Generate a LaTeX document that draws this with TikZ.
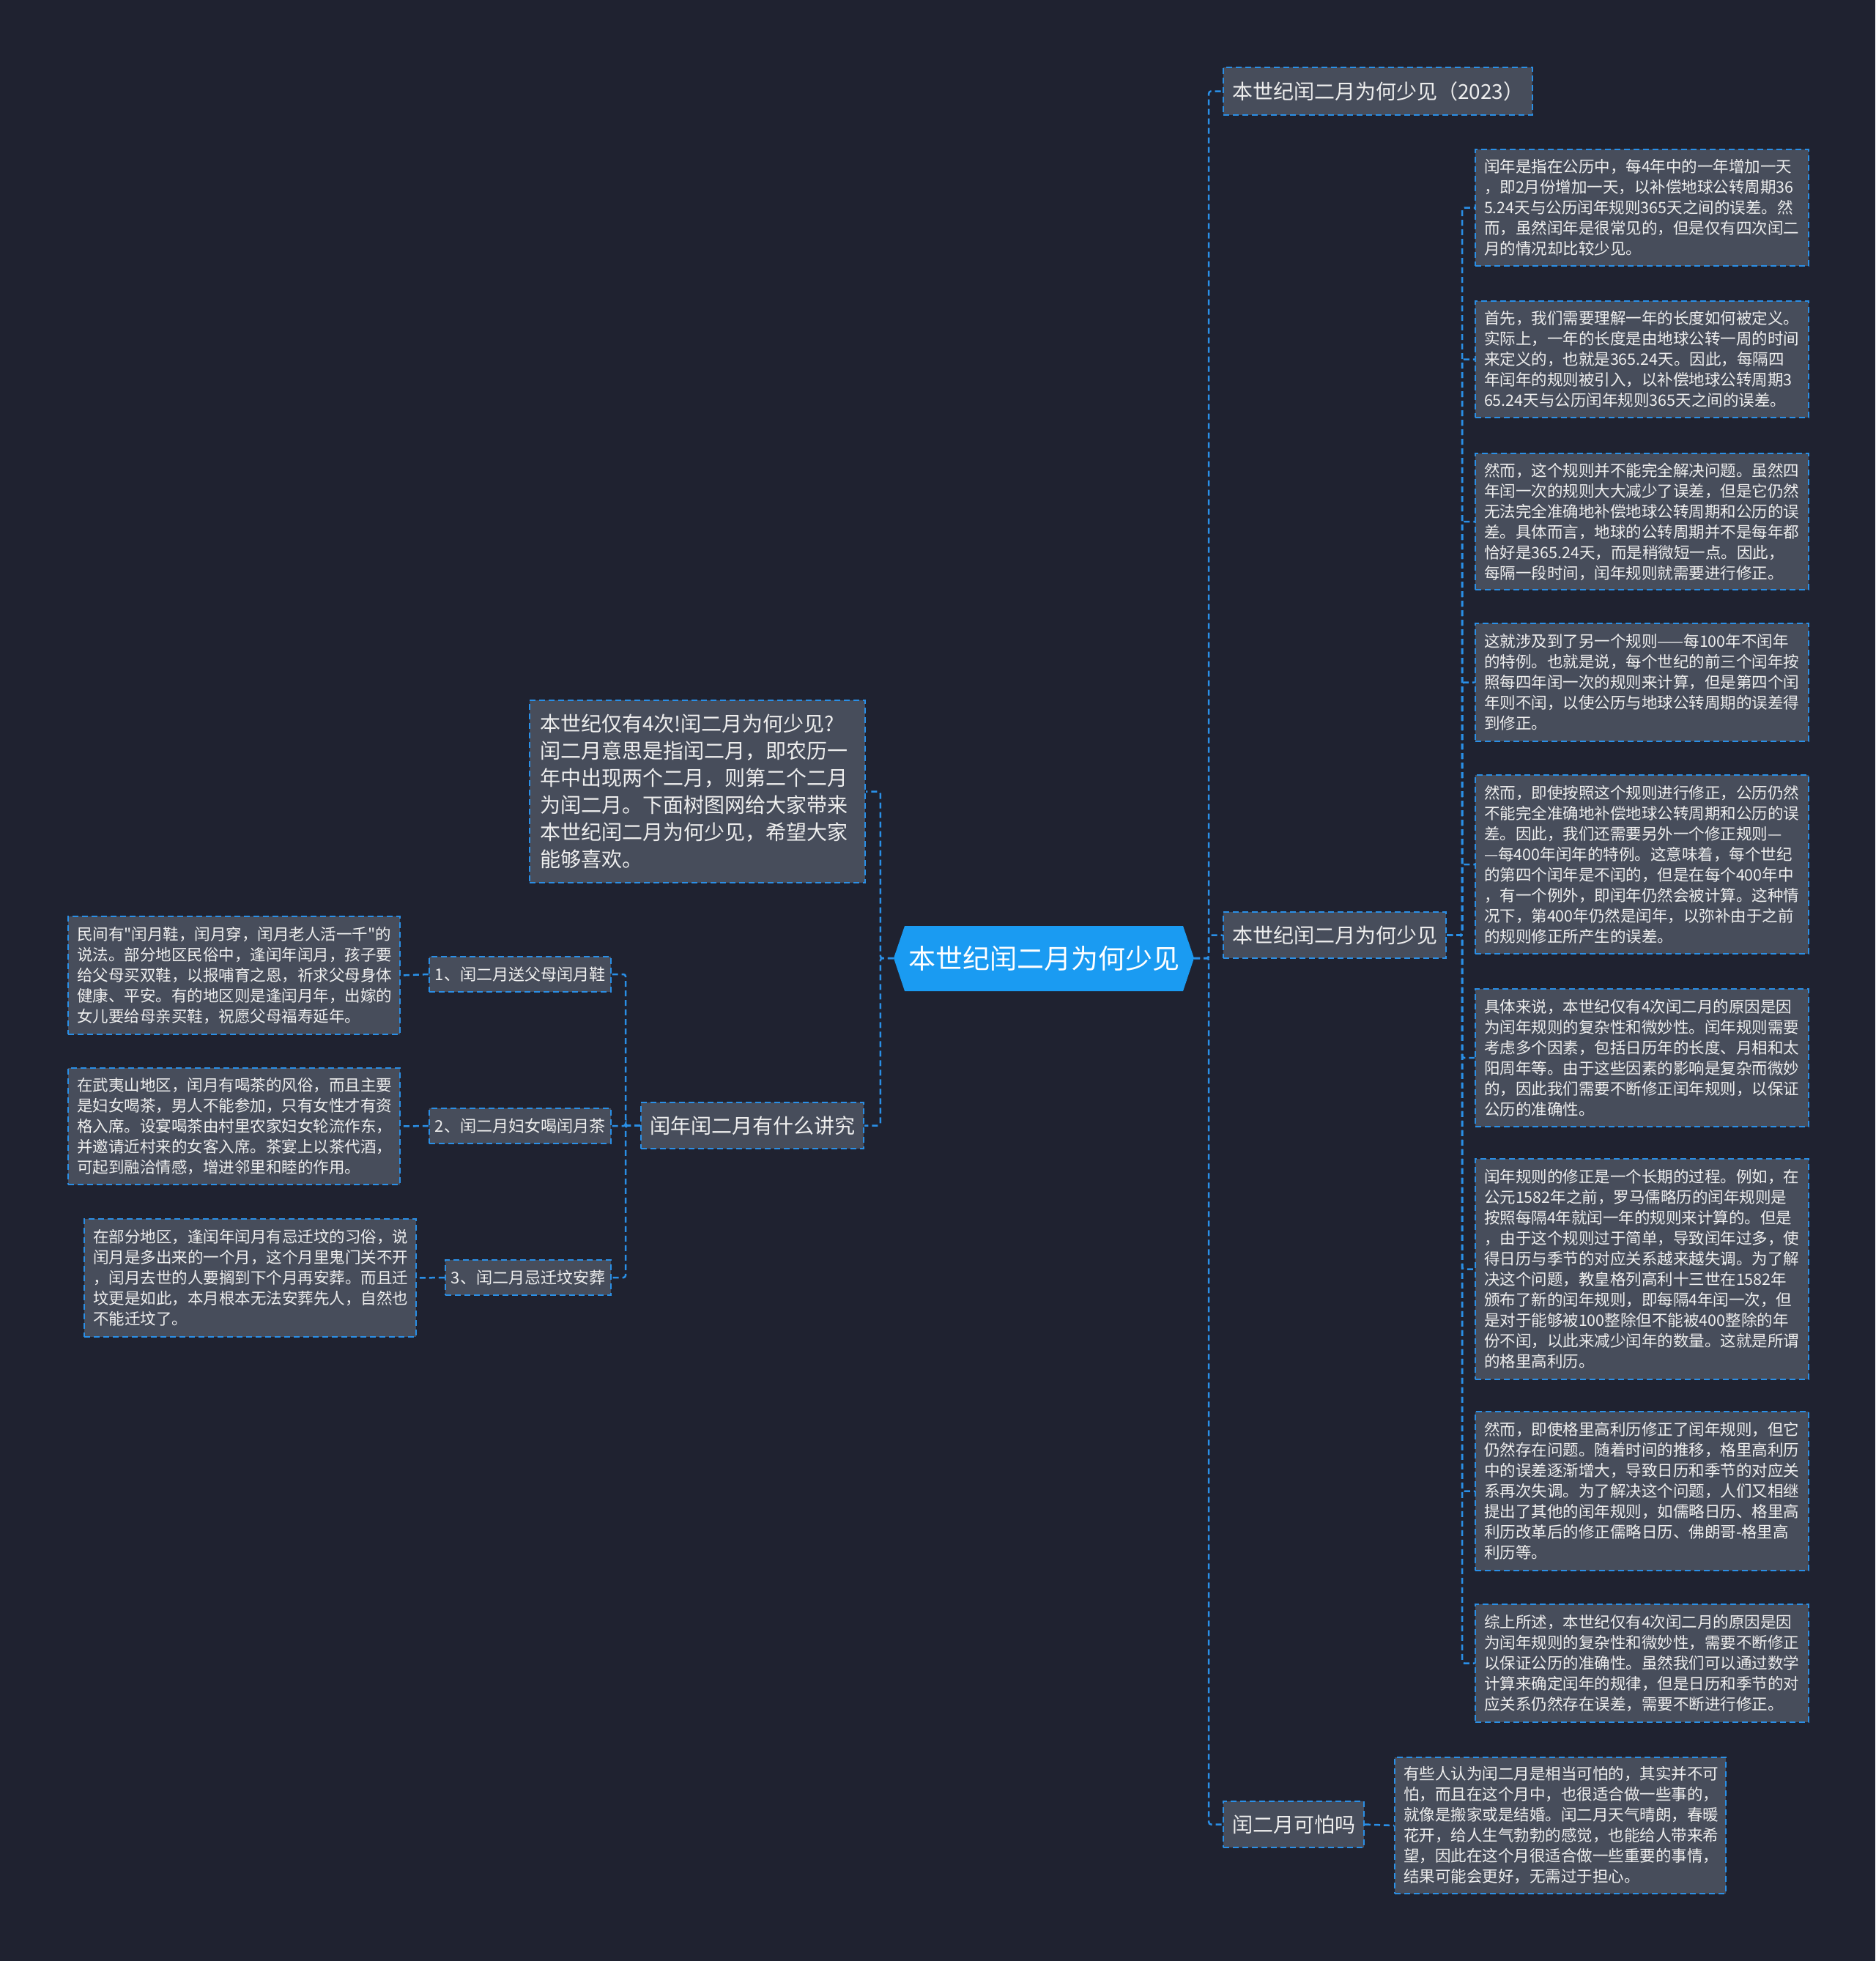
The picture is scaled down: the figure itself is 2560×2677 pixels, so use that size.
\documentclass[tikz,border=0pt]{standalone}
\usepackage{fontspec}
\newfontfamily\cjk{Noto Sans CJK SC}
\definecolor{bg}{HTML}{1F2230}
\definecolor{boxfill}{HTML}{474D5B}
\definecolor{linec}{HTML}{2A8FE6}
\definecolor{hub}{HTML}{1A9BF2}
\definecolor{txt}{HTML}{EEEEEE}
\begin{document}
\begin{tikzpicture}[x=1pt,y=-1pt,
  conn/.style={draw=linec, line width=2.5pt, dash pattern=on 8pt off 5pt, rounded corners=3pt},
  box/.style={draw=linec, line width=2pt, dash pattern=on 8pt off 5pt, fill=boxfill, text=txt, inner ysep=0pt},
  leafbox/.style={box, anchor=north west, inner xsep=12pt, align=left, font=\cjk\fontsize{21.5}{28}\selectfont},
  branch/.style={box, inner xsep=12pt, minimum height=63pt, font=\cjk\fontsize{28}{34}\selectfont},
  subbox/.style={box, anchor=east, inner xsep=8pt, minimum height=48pt, font=\cjk\fontsize{22}{26}\selectfont}
]
\useasboundingbox (0,0) rectangle (2560,2677);
\fill[bg] (0,0) rectangle (2560,2677);

% central node
\fill[hub] (1220,1308) -- (1235,1264) -- (1615,1264) -- (1630,1308) -- (1615,1353) -- (1235,1353) -- cycle;
\node[font=\cjk\fontsize{37}{44}\selectfont, text=white, minimum width=410pt, minimum height=89pt, inner sep=0pt] (c) at (1425,1308) {本世纪闰二月为何少见};

% right branches
\node[branch, anchor=west, minimum height=65pt] (r1) at (1669,124.5) {本世纪闰二月为何少见（2023）};
\node[branch, anchor=west] (r2) at (1669,1276.5) {本世纪闰二月为何少见};
\node[branch, anchor=west] (r3) at (1669,2490.5) {闰二月可怕吗};

% right leaves
\node[leafbox, text width=431pt, minimum height=159pt] (a1) at (2013,203) {闰年是指在公历中，每4年中的一年增加一天\\，即2月份增加一天，以补偿地球公转周期36\\5.24天与公历闰年规则365天之间的误差。然\\而，虽然闰年是很常见的，但是仅有四次闰二\\月的情况却比较少见。};
\node[leafbox, text width=431pt, minimum height=159pt] (a2) at (2013,410) {首先，我们需要理解一年的长度如何被定义。\\实际上，一年的长度是由地球公转一周的时间\\来定义的，也就是365.24天。因此，每隔四\\年闰年的规则被引入，以补偿地球公转周期3\\65.24天与公历闰年规则365天之间的误差。};
\node[leafbox, text width=431pt, minimum height=186pt] (a3) at (2013,618) {然而，这个规则并不能完全解决问题。虽然四\\年闰一次的规则大大减少了误差，但是它仍然\\无法完全准确地补偿地球公转周期和公历的误\\差。具体而言，地球的公转周期并不是每年都\\恰好是365.24天，而是稍微短一点。因此，\\每隔一段时间，闰年规则就需要进行修正。};
\node[leafbox, text width=431pt, minimum height=161pt] (a4) at (2013,850) {这就涉及到了另一个规则——每100年不闰年\\的特例。也就是说，每个世纪的前三个闰年按\\照每四年闰一次的规则来计算，但是第四个闰\\年则不闰，以使公历与地球公转周期的误差得\\到修正。};
\node[leafbox, text width=431pt, minimum height=244pt] (a5) at (2013,1057) {然而，即使按照这个规则进行修正，公历仍然\\不能完全准确地补偿地球公转周期和公历的误\\差。因此，我们还需要另外一个修正规则—\\—每400年闰年的特例。这意味着，每个世纪\\的第四个闰年是不闰的，但是在每个400年中\\，有一个例外，即闰年仍然会被计算。这种情\\况下，第400年仍然是闰年，以弥补由于之前\\的规则修正所产生的误差。};
\node[leafbox, text width=431pt, minimum height=188pt] (a6) at (2013,1349) {具体来说，本世纪仅有4次闰二月的原因是因\\为闰年规则的复杂性和微妙性。闰年规则需要\\考虑多个因素，包括日历年的长度、月相和太\\阳周年等。由于这些因素的影响是复杂而微妙\\的，因此我们需要不断修正闰年规则，以保证\\公历的准确性。};
\node[leafbox, text width=431pt, minimum height=301pt] (a7) at (2013,1581) {闰年规则的修正是一个长期的过程。例如，在\\公元1582年之前，罗马儒略历的闰年规则是\\按照每隔4年就闰一年的规则来计算的。但是\\，由于这个规则过于简单，导致闰年过多，使\\得日历与季节的对应关系越来越失调。为了解\\决这个问题，教皇格列高利十三世在1582年\\颁布了新的闰年规则，即每隔4年闰一次，但\\是对于能够被100整除但不能被400整除的年\\份不闰，以此来减少闰年的数量。这就是所谓\\的格里高利历。};
\node[leafbox, text width=431pt, minimum height=217pt] (a8) at (2013,1926) {然而，即使格里高利历修正了闰年规则，但它\\仍然存在问题。随着时间的推移，格里高利历\\中的误差逐渐增大，导致日历和季节的对应关\\系再次失调。为了解决这个问题，人们又相继\\提出了其他的闰年规则，如儒略日历、格里高\\利历改革后的修正儒略日历、佛朗哥-格里高\\利历等。};
\node[leafbox, text width=431pt, minimum height=161pt] (a9) at (2013,2189) {综上所述，本世纪仅有4次闰二月的原因是因\\为闰年规则的复杂性和微妙性，需要不断修正\\以保证公历的准确性。虽然我们可以通过数学\\计算来确定闰年的规律，但是日历和季节的对\\应关系仍然存在误差，需要不断进行修正。};
\node[leafbox, text width=428pt, minimum height=186pt] (b1) at (1903,2398) {有些人认为闰二月是相当可怕的，其实并不可\\怕，而且在这个月中，也很适合做一些事的，\\就像是搬家或是结婚。闰二月天气晴朗，春暖\\花开，给人生气勃勃的感觉，也能给人带来希\\望，因此在这个月很适合做一些重要的事情，\\结果可能会更好，无需过于担心。};

% left side
\node[box, anchor=north west, inner xsep=14pt, text width=430pt, minimum height=249pt, align=left, font=\cjk\fontsize{28}{37}\selectfont] (intro) at (722,955) {本世纪仅有4次!闰二月为何少见?\\闰二月意思是指闰二月，即农历一\\年中出现两个二月，则第二个二月\\为闰二月。下面树图网给大家带来\\本世纪闰二月为何少见，希望大家\\能够喜欢。};
\node[branch, anchor=east] (l) at (1180,1536.5) {闰年闰二月有什么讲究};
\node[subbox] (s1) at (835,1330) {1、闰二月送父母闰月鞋};
\node[subbox] (s2) at (835,1537) {2、闰二月妇女喝闰月茶};
\node[subbox] (s3) at (835,1744) {3、闰二月忌迁坟安葬};
\node[leafbox, anchor=north west, text width=429pt, minimum height=161pt] (c1) at (92,1250) {民间有"闰月鞋，闰月穿，闰月老人活一千"的\\说法。部分地区民俗中，逢闰年闰月，孩子要\\给父母买双鞋，以报哺育之恩，祈求父母身体\\健康、平安。有的地区则是逢闰月年，出嫁的\\女儿要给母亲买鞋，祝愿父母福寿延年。};
\node[leafbox, anchor=north west, text width=429pt, minimum height=159pt] (c2) at (92,1457) {在武夷山地区，闰月有喝茶的风俗，而且主要\\是妇女喝茶，男人不能参加，只有女性才有资\\格入席。设宴喝茶由村里农家妇女轮流作东，\\并邀请近村来的女客入席。茶宴上以茶代酒，\\可起到融洽情感，增进邻里和睦的作用。};
\node[leafbox, anchor=north west, text width=429pt, minimum height=161pt] (c3) at (114,1663) {在部分地区，逢闰年闰月有忌迁坟的习俗，说\\闰月是多出来的一个月，这个月里鬼门关不开\\，闰月去世的人要搁到下个月再安葬。而且迁\\坟更是如此，本月根本无法安葬先人，自然也\\不能迁坟了。};

% connectors right
\foreach \n in {r1,r2,r3} {\draw[conn] (c.east) -- ++(20,0) |- (\n.west);}
\foreach \n in {a1,a2,a3,a4,a5,a6,a7,a8,a9} {\draw[conn] (r2.east) -- ++(21,0) |- (\n.west);}
\draw[conn] (r3.east) -- (b1.west);
% connectors left
\foreach \n in {intro,l} {\draw[conn] (c.west) -- ++(-18,0) |- (\n.east);}
\foreach \n in {s1,s2,s3} {\draw[conn] (l.west) -- ++(-20,0) |- (\n.east);}
\draw[conn] (s1.west) -- (c1.east);
\draw[conn] (s2.west) -- (c2.east);
\draw[conn] (s3.west) -- (c3.east);
\end{tikzpicture}
\end{document}
